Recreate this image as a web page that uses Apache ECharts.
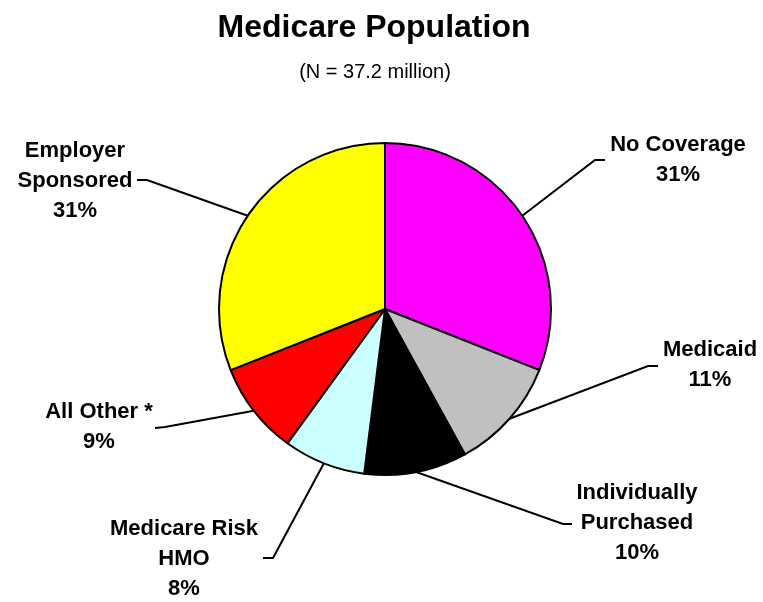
<!DOCTYPE html>
<html>
<head>
<meta charset="utf-8">
<script src="https://cdn.jsdelivr.net/npm/echarts@6/dist/echarts.min.js"></script>
<style>
html,body{margin:0;padding:0;background:#fff;}
#chart{width:763px;height:602px;}
</style>
</head>
<body>
<div id="chart"></div>
<script>
// ---- data ----
const categories = ['No Coverage', 'Medicaid', 'Individually\nPurchased', 'Medicare Risk\nHMO', 'All Other *', 'Employer\nSponsored'];
const shares = [31, 11, 10, 8, 9, 31];
const sliceColors = ['#FF00FF', '#C0C0C0', '#000000', '#CCFFFF', '#FF0000', '#FFFF00'];
const titleText = 'Medicare Population';
const subtitleText = '(N = 37.2 million)';

// ---- label placement (layout only) ----
const labelPlacement = [
  {x: 678, y: 160, elbow: [595, 160], end: [605, 160]},
  {x: 710, y: 365, elbow: [648, 366], end: [658, 366]},
  {x: 637, y: 523, elbow: [563, 524], end: [572, 524]},
  {x: 184, y: 559, elbow: [273, 558], end: [263, 558]},
  {x: 99,  y: 427, elbow: [165, 427], end: [155, 428]},
  {x: 75,  y: 181, elbow: [147, 180], end: [137, 180]}
];

const CX = 385, CY = 309, R = 166;

const chart = echarts.init(document.getElementById('chart'), null, {renderer: 'canvas'});
const font = 'Liberation Sans, Arial, sans-serif';

chart.setOption({
  backgroundColor: '#ffffff',
  animation: false,
  title: [
    {text: titleText, left: 369, top: 7, textAlign: 'center',
     textStyle: {fontFamily: font, fontSize: 32, fontWeight: 'bold', color: '#000'}},
    {text: subtitleText, left: 370, top: 57, textAlign: 'center',
     textStyle: {fontFamily: font, fontSize: 20, fontWeight: 'normal', color: '#000'}}
  ],
  series: [{
    type: 'pie',
    center: [CX, CY],
    radius: R,
    startAngle: 90,
    clockwise: true,
    avoidLabelOverlap: false,
    data: categories.map((c, i) => ({name: c, value: shares[i], itemStyle: {color: sliceColors[i]}})),
    itemStyle: {borderColor: '#000', borderWidth: 2},
    label: {
      show: true,
      position: 'outside',
      formatter: p => p.name + '\n' + p.value + '%',
      fontFamily: font,
      fontSize: 22,
      fontWeight: 'bold',
      color: '#000',
      lineHeight: 30,
      align: 'center'
    },
    labelLine: {show: true, smooth: false, length: 20, length2: 10, lineStyle: {color: '#000', width: 2}},
    emphasis: {disabled: true},
    labelLayout: function (params) {
      const pl = labelPlacement[params.dataIndex];
      let start = params.labelLinePoints && params.labelLinePoints[0];
      if (!start) {
        let acc = 0; for (let k = 0; k < params.dataIndex; k++) acc += shares[k];
        const tot = shares.reduce((a, b) => a + b, 0);
        const ang = (acc + shares[params.dataIndex] / 2) / tot * 2 * Math.PI;
        start = [CX + R * Math.sin(ang), CY - R * Math.cos(ang)];
      }
      return {x: pl.x, y: pl.y, align: 'center', verticalAlign: 'middle',
              labelLinePoints: [start, pl.elbow, pl.end]};
    }
  }]
});
</script>
</body>
</html>
